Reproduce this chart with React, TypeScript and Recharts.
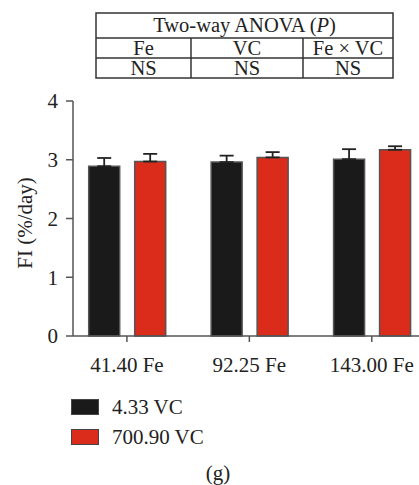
import { BarChart, Bar, XAxis, YAxis, ErrorBar } from 'recharts';

const categories = ['41.40 Fe', '92.25 Fe', '143.00 Fe'];
const lowVc = [2.89, 2.96, 3.01];
const highVc = [2.97, 3.04, 3.17];
const lowVcErr = [0.14, 0.11, 0.17];
const highVcErr = [0.13, 0.09, 0.06];
const yTicks = [0, 1, 2, 3, 4];

const seriesNames = ['4.33 VC', '700.90 VC'];
const anovaFactors = ['Fe', 'VC', 'Fe × VC'];
const anovaResults = ['NS', 'NS', 'NS'];

const FONT = '"Liberation Serif", "DejaVu Serif", serif';
const BLACK = '#1a1a1a';
const RED = '#da2b1b';

const data = categories.map((c, i) => ({
  name: c,
  low: lowVc[i],
  high: highVc[i],
  lowErr: [0, lowVcErr[i]],
  highErr: [0, highVcErr[i]],
}));

const AnovaTable = () => {
  const cols = [0, 95, 207, 297];
  const rows = [0, 25, 45, 65];
  return (
    <svg
      width={300}
      height={70}
      style={{ position: 'absolute', left: 95, top: 12, overflow: 'visible' }}
    >
      <g transform="translate(1,1)" fontFamily={FONT} fontSize={20.5} fill="#222">
        <rect x={0} y={0} width={297} height={65} fill="none" stroke="#333" strokeWidth={1.5} />
        <line x1={0} x2={297} y1={rows[1]} y2={rows[1]} stroke="#333" strokeWidth={1.5} />
        <line x1={0} x2={297} y1={rows[2]} y2={rows[2]} stroke="#333" strokeWidth={1.5} />
        <line x1={cols[1]} x2={cols[1]} y1={rows[1]} y2={rows[3]} stroke="#333" strokeWidth={1.5} />
        <line x1={cols[2]} x2={cols[2]} y1={rows[1]} y2={rows[3]} stroke="#333" strokeWidth={1.5} />
        <text x={148.5} y={19} textAnchor="middle">
          Two-way ANOVA (<tspan fontStyle="italic">P</tspan>)
        </text>
        {anovaFactors.map((f, i) => (
          <text key={f} x={(cols[i] + cols[i + 1]) / 2} y={41.5} textAnchor="middle">
            {f}
          </text>
        ))}
        {anovaResults.map((r, i) => (
          <text key={i} x={(cols[i] + cols[i + 1]) / 2} y={61.5} textAnchor="middle">
            {r}
          </text>
        ))}
      </g>
    </svg>
  );
};

const ChartLegend = () => (
  <div
    style={{
      position: 'absolute',
      left: 71,
      top: 392,
      fontFamily: FONT,
      fontSize: 21,
      color: '#222',
    }}
  >
    {[BLACK, RED].map((color, i) => (
      <div key={seriesNames[i]} style={{ display: 'flex', alignItems: 'center', height: 30 }}>
        <span
          style={{
            display: 'inline-block',
            width: 26,
            height: 14,
            background: color,
            border: '1px solid #444',
            marginRight: 13,
          }}
        />
        <span style={{ lineHeight: '30px' }}>{seriesNames[i]}</span>
      </div>
    ))}
  </div>
);

// y-axis title, centred a little below the middle of the 0–4 range
const YLabel = (props: any) => {
  const { viewBox } = props;
  const cx = viewBox.x + 25;
  const cy = 223;
  return (
    <text
      x={cx}
      y={cy}
      transform={`rotate(-90, ${cx}, ${cy})`}
      textAnchor="middle"
      dominantBaseline="central"
      fontFamily={FONT}
      fontSize={21}
      fill="#222"
    >
      FI (%/day)
    </text>
  );
};

export default function App() {
  return (
    <div
      style={{
        position: 'absolute',
        left: 0,
        top: 0,
        width: 419,
        height: 485,
        overflow: 'hidden',
        background: '#fff',
      }}
    >
      <BarChart
        width={440}
        height={485}
        data={data}
        margin={{ top: 101, right: 7, bottom: 119, left: 0 }}
        barGap={15}
        barSize={31}
      >
        <XAxis
          dataKey="name"
          height={30}
          padding={{ left: -7.3, right: 0 }}
          stroke="#555"
          strokeWidth={1.5}
          tickSize={6}
          tickMargin={15}
          tick={{ fontFamily: FONT, fontSize: 21, fill: '#222' }}
        />
        <YAxis
          width={73}
          domain={[0, 4]}
          ticks={yTicks}
          stroke="#555"
          strokeWidth={1.5}
          tickSize={7}
          tickMargin={8}
          tick={{ fontFamily: FONT, fontSize: 21, fill: '#222' }}
          label={<YLabel />}
        />
        <Bar dataKey="low" name={seriesNames[0]} fill={BLACK} stroke="#555" strokeWidth={1.5} isAnimationActive={false}>
          <ErrorBar dataKey="lowErr" width={7} stroke="#222" strokeWidth={1.8} />
        </Bar>
        <Bar dataKey="high" name={seriesNames[1]} fill={RED} stroke="#555" strokeWidth={1.5} isAnimationActive={false}>
          <ErrorBar dataKey="highErr" width={7} stroke="#222" strokeWidth={1.8} />
        </Bar>
      </BarChart>
      <AnovaTable />
      <ChartLegend />
      <div
        style={{
          position: 'absolute',
          left: 188,
          top: 462,
          width: 60,
          textAlign: 'center',
          fontFamily: FONT,
          fontSize: 21,
          lineHeight: '22px',
          color: '#222',
        }}
      >
        (g)
      </div>
    </div>
  );
}
